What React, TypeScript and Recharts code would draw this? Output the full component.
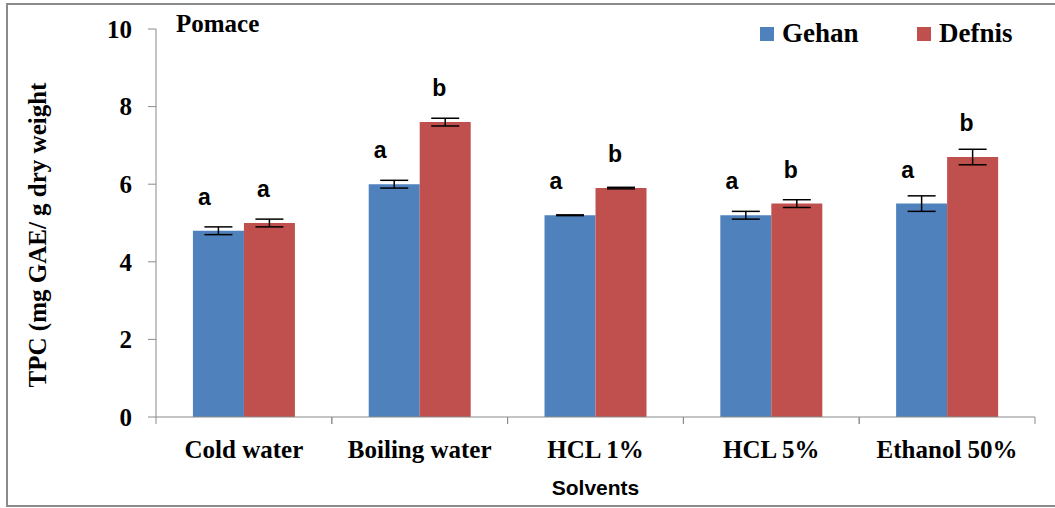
import React from 'react';
import {
  Bar,
  BarChart,
  ErrorBar,
  LabelList,
  XAxis,
  YAxis,
} from 'recharts';

const categories = ['Cold water', 'Boiling water', 'HCL 1%', 'HCL 5%', 'Ethanol 50%'];
const gehan = [4.8, 6.0, 5.2, 5.2, 5.5];
const gehanErr = [0.1, 0.1, 0.01, 0.1, 0.2];
const defnis = [5.0, 7.6, 5.9, 5.5, 6.7];
const defnisErr = [0.1, 0.1, 0.02, 0.1, 0.2];
const gehanLetters = ['a', 'a', 'a', 'a', 'a'];
const defnisLetters = ['a', 'b', 'b', 'b', 'b'];
const yTicks = [0, 2, 4, 6, 8, 10];

const BLUE = '#4F81BD';
const RED = '#C0504D';
const AXIS = '#8a8a8a';
const SERIF = '"Liberation Serif", "Times New Roman", serif';
const SANS = '"Liberation Sans", Arial, sans-serif';

const data = categories.map((name, i) => ({
  name,
  gehan: gehan[i],
  gehanErr: gehanErr[i],
  gehanLetter: gehanLetters[i],
  defnis: defnis[i],
  defnisErr: defnisErr[i],
  defnisLetter: defnisLetters[i],
}));

const W = 1055;
const H = 508;
const PLOT_LEFT = 156;
const PLOT_RIGHT = 1035;
const AXIS_Y = 417;
const BAND = (PLOT_RIGHT - PLOT_LEFT) / categories.length;

function CategoryTick(props: any) {
  const { x, payload } = props;
  return (
    <g>
      <line x1={x - BAND / 2} x2={x - BAND / 2} y1={AXIS_Y} y2={AXIS_Y + 7} stroke={AXIS} />
      <line x1={x + BAND / 2} x2={x + BAND / 2} y1={AXIS_Y} y2={AXIS_Y + 7} stroke={AXIS} />
      <text
        x={x}
        y={AXIS_Y + 41}
        textAnchor="middle"
        fontFamily={SERIF}
        fontWeight="bold"
        fontSize={25}
        fill="#000"
      >
        {payload.value}
      </text>
    </g>
  );
}

function letterLabel(dx: number) {
  return (props: any) => {
    const { x, y, width, value } = props;
    return (
      <text
        x={x + width / 2 + dx}
        y={y - 26}
        textAnchor="middle"
        fontFamily={SANS}
        fontWeight="bold"
        fontSize={23}
        fill="#000"
      >
        {value}
      </text>
    );
  };
}

function LegendItem({ color, label, left }: { color: string; label: string; left: number }) {
  return (
    <div style={{ position: 'absolute', left, top: 18, display: 'flex', alignItems: 'center' }}>
      <span style={{ width: 14, height: 14, background: color, display: 'inline-block', marginRight: 8 }} />
      <span style={{ fontFamily: SERIF, fontWeight: 'bold', fontSize: 27, color: '#000' }}>{label}</span>
    </div>
  );
}

export default function App() {
  return (
    <div style={{ position: 'absolute', left: 0, top: 0, width: W, height: H, background: '#fff' }}>
      <div
        style={{
          position: 'absolute',
          left: 6,
          top: 3,
          width: W,
          height: H - 4,
          borderTop: `2px solid ${AXIS}`,
          borderLeft: `2px solid ${AXIS}`,
          borderBottom: `2px solid ${AXIS}`,
          boxSizing: 'border-box',
        }}
      />
      <div style={{ position: 'absolute', left: 0, top: 0 }}>
        <BarChart
          width={W}
          height={H}
          data={data}
          margin={{ top: 29, right: W - PLOT_RIGHT, left: 0, bottom: 0 }}
          barCategoryGap="21%"
          barGap={0}
        >
          <XAxis
            dataKey="name"
            height={H - AXIS_Y}
            tickLine={false}
            axisLine={{ stroke: AXIS }}
            tick={<CategoryTick />}
            interval={0}
          />
          <YAxis
            width={PLOT_LEFT}
            domain={[0, 10]}
            ticks={yTicks}
            tickSize={8}
            tickMargin={16}
            axisLine={{ stroke: AXIS }}
            tickLine={{ stroke: AXIS }}
            tick={{ fontFamily: SERIF, fontWeight: 'bold', fontSize: 25, fill: '#000' }}
            label={{
              content: () => (
                <text
                  x={37}
                  y={235}
                  transform="rotate(-90 37 235)"
                  textAnchor="middle"
                  dominantBaseline="central"
                  fontFamily={SERIF}
                  fontWeight="bold"
                  fontSize={25}
                  fill="#000"
                >
                  TPC (mg GAE/ g dry weight
                </text>
              ),
            }}
          />
          <Bar dataKey="gehan" name="Gehan" fill={BLUE} isAnimationActive={false}>
            <ErrorBar dataKey="gehanErr" width={14} stroke="#000" strokeWidth={1.5} />
            <LabelList dataKey="gehanLetter" content={letterLabel(-14)} />
          </Bar>
          <Bar dataKey="defnis" name="Defnis" fill={RED} isAnimationActive={false}>
            <ErrorBar dataKey="defnisErr" width={14} stroke="#000" strokeWidth={1.5} />
            <LabelList dataKey="defnisLetter" content={letterLabel(-6)} />
          </Bar>
        </BarChart>
      </div>
      <div
        style={{
          position: 'absolute',
          left: 176,
          top: 10,
          fontFamily: SERIF,
          fontWeight: 'bold',
          fontSize: 25,
        }}
      >
        Pomace
      </div>
      <LegendItem color={BLUE} label="Gehan" left={760} />
      <LegendItem color={RED} label="Defnis" left={917} />
      <div
        style={{
          position: 'absolute',
          left: 0,
          width: W,
          top: 476,
          textAlign: 'center',
          paddingLeft: PLOT_LEFT,
          paddingRight: W - PLOT_RIGHT,
          boxSizing: 'border-box',
          fontFamily: SANS,
          fontWeight: 'bold',
          fontSize: 21,
        }}
      >
        Solvents
      </div>
    </div>
  );
}
